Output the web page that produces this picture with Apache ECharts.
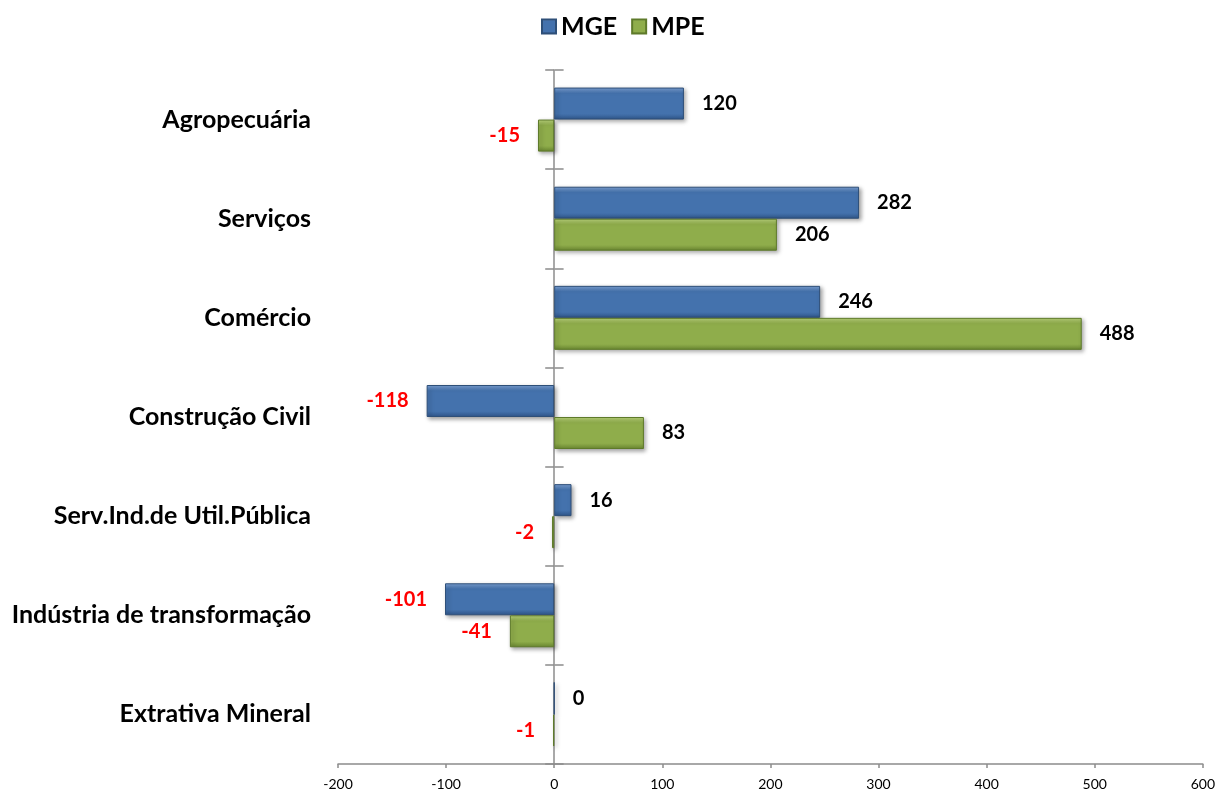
<!DOCTYPE html>
<html>
<head>
<meta charset="utf-8">
<script src="https://cdn.jsdelivr.net/npm/echarts@6/dist/echarts.min.js"></script>
<style>html,body{margin:0;padding:0;background:#fff}#c{width:1218px;height:792px}</style>
</head>
<body>
<div id="c"></div>
<script>
const categories = ['Agropecuária', 'Serviços', 'Comércio', 'Construção Civil', 'Serv.Ind.de Util.Pública', 'Indústria de transformação', 'Extrativa Mineral'];
const mge = [120, 282, 246, -118, 16, -101, 0];
const mpe = [-15, 206, 488, 83, -2, -41, -1];
const xTicks = { min: -200, max: 600, interval: 100 };

const FONT = 'Lato, "Open Sans", sans-serif';

function grad(top, mid, bot) {
  return new echarts.graphic.LinearGradient(0, 0, 0, 1, [
    { offset: 0, color: top }, { offset: 0.18, color: mid },
    { offset: 0.82, color: mid }, { offset: 1, color: bot }
  ]);
}
const blue = grad('#7ea4d8', '#4472ad', '#30568a');
const green = grad('#bcd67c', '#8fad4b', '#6a8731');

function mkData(vals) {
  return vals.map(v => ({
    value: v,
    label: {
      position: v < 0 ? 'left' : 'right',
      color: v < 0 ? '#ff0000' : '#000000'
    }
  }));
}

const chart = echarts.init(document.getElementById('c'), null, { renderer: 'canvas' });
const baseLabel = { show: true, distance: 18, fontFamily: FONT, fontWeight: 'bold', fontSize: 20, formatter: p => p.value };
const axisGray = '#8c8c8c';
chart.setOption({
  animation: false,
  backgroundColor: '#ffffff',
  legend: {
    top: 9, left: 536, itemWidth: 14, itemHeight: 14, itemGap: 14,
    icon: 'rect',
    textStyle: { fontFamily: FONT, fontWeight: 'bold', fontSize: 25, color: '#000' },
    data: ['MGE', 'MPE']
  },
  grid: { left: 338, right: 14, top: 70, bottom: 28, containLabel: false },
  xAxis: {
    type: 'value', min: xTicks.min, max: xTicks.max, interval: xTicks.interval,
    axisLine: { show: true, onZero: false, lineStyle: { color: axisGray, width: 1.5 } },
    axisTick: { show: true, length: 4, lineStyle: { color: axisGray, width: 1.5 } },
    axisLabel: { fontFamily: FONT, fontSize: 14, color: '#000', margin: 13 },
    splitLine: { show: false }
  },
  yAxis: [
    {
      type: 'category', data: categories, inverse: true, position: 'left',
      axisLine: { show: false, onZero: false }, axisTick: { show: false },
      axisLabel: { fontFamily: FONT, fontWeight: 'bold', fontSize: 25, color: '#000', margin: 27 }
    },
    {
      type: 'category', data: categories, inverse: true, position: 'left',
      axisLine: { show: true, onZero: true, lineStyle: { color: axisGray, width: 1.5 } },
      axisTick: { show: true, length: 9, inside: false, lineStyle: { color: axisGray, width: 1.5 } },
      axisLabel: { show: false }
    },
    {
      type: 'category', data: categories, inverse: true, position: 'left', offset: -216.6,
      axisLine: { show: false, onZero: false },
      axisTick: { show: true, length: 9, inside: true, lineStyle: { color: axisGray, width: 1.5 } },
      axisLabel: { show: false }
    }
  ],
  series: [
    {
      name: 'MGE', type: 'bar', yAxisIndex: 0, barWidth: 32, barGap: '0%',
      data: mkData(mge),
      itemStyle: { color: blue, borderColor: '#2e4f78', borderWidth: 1, shadowBlur: 4, shadowColor: 'rgba(0,0,0,0.35)', shadowOffsetX: 2, shadowOffsetY: 2 },
      label: baseLabel
    },
    {
      name: 'MPE', type: 'bar', yAxisIndex: 0, barWidth: 32, barGap: '0%',
      data: mkData(mpe),
      itemStyle: { color: green, borderColor: '#5e7a2a', borderWidth: 1, shadowBlur: 4, shadowColor: 'rgba(0,0,0,0.35)', shadowOffsetX: 2, shadowOffsetY: 2 },
      label: baseLabel
    }
  ]
});
</script>
</body>
</html>
